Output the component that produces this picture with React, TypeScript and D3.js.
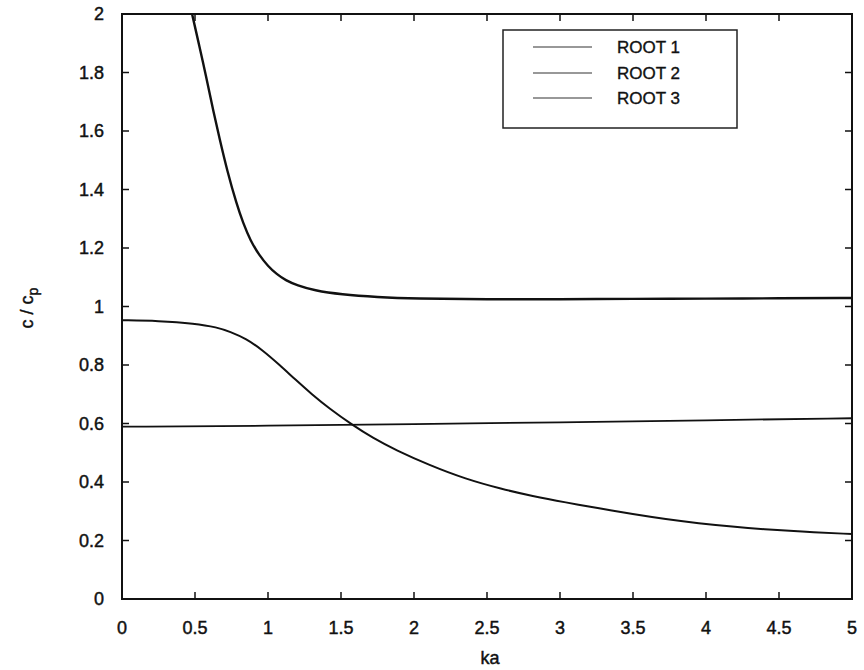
import React from "react";
import * as d3 from "d3";

const root1Ka = [0.48, 0.53, 0.575, 0.62, 0.67, 0.72, 0.785, 0.83, 0.88, 0.94, 1.0, 1.06, 1.12, 1.2, 1.315, 1.5, 1.75, 2.0, 2.5, 3.0, 3.5, 4.0, 4.5, 5.0];
const root1Val = [2.0, 1.89, 1.79, 1.68, 1.57, 1.465, 1.35, 1.285, 1.225, 1.175, 1.138, 1.11, 1.09, 1.072, 1.055, 1.041, 1.032, 1.027, 1.024, 1.025, 1.026, 1.027, 1.028, 1.029];

const root2Ka = [0, 0.25, 0.5, 0.65, 0.74, 0.85, 0.963, 1.08, 1.19, 1.3, 1.418, 1.578, 1.72, 1.875, 2.103, 2.354, 2.6, 2.81, 3.04, 3.267, 3.5, 3.724, 3.95, 4.18, 4.4, 4.637, 5.0];
const root2Val = [0.953, 0.951, 0.942, 0.929, 0.914, 0.89, 0.851, 0.8, 0.749, 0.7, 0.652, 0.595, 0.55, 0.509, 0.458, 0.41, 0.376, 0.352, 0.33, 0.31, 0.29, 0.273, 0.259, 0.247, 0.238, 0.231, 0.222];

const root3Ka = [0, 1, 2, 3, 4, 5];
const root3Val = [0.589, 0.592, 0.598, 0.604, 0.611, 0.618];

const xTicks = [0, 0.5, 1, 1.5, 2, 2.5, 3, 3.5, 4, 4.5, 5];
const yTicks = [0, 0.2, 0.4, 0.6, 0.8, 1, 1.2, 1.4, 1.6, 1.8, 2];
const legendLabels = ["ROOT 1", "ROOT 2", "ROOT 3"];

const W = 864;
const H = 670;
const L = 122, R = 852, T = 14, B = 599;
const FONT = "'Liberation Sans', Arial, Helvetica, sans-serif";

export default function App() {
  const x = d3.scaleLinear().domain([0, 5]).range([L, R]);
  const y = d3.scaleLinear().domain([0, 2]).range([B, T]);
  const line = d3
    .line<[number, number]>()
    .x((d) => x(d[0]))
    .y((d) => y(d[1]))
    .curve(d3.curveBasis);

  const series = [
    { ka: root1Ka, val: root1Val, w: 2.4 },
    { ka: root2Ka, val: root2Val, w: 2.0 },
    { ka: root3Ka, val: root3Val, w: 1.8 },
  ];

  const lg = { x0: 503, y0: 30, x1: 737, y1: 128 };
  const rowY = [47, 73, 98];
  const txt = { fill: "#111", stroke: "#111", strokeWidth: 0.45 };

  return (
    <svg
      width={W}
      height={H}
      style={{ position: "absolute", left: 0, top: 0, background: "#fff" }}
      fontFamily={FONT}
    >
      <rect x={0} y={0} width={W} height={H} fill="#fff" />
      <defs>
        <clipPath id="plot">
          <rect x={L} y={T} width={R - L} height={B - T} />
        </clipPath>
      </defs>

      {xTicks.map((t) => (
        <g key={"xt" + t}>
          <line x1={x(t)} x2={x(t)} y1={B} y2={B - 7} stroke="#111" strokeWidth={1.5} />
          <line x1={x(t)} x2={x(t)} y1={T} y2={T + 7} stroke="#111" strokeWidth={1.5} />
          <text x={x(t)} y={634} textAnchor="middle" fontSize={18} {...txt}>
            {String(t)}
          </text>
        </g>
      ))}
      {yTicks.map((t) => (
        <g key={"yt" + t}>
          <line x1={L} x2={L + 7} y1={y(t)} y2={y(t)} stroke="#111" strokeWidth={1.5} />
          <line x1={R} x2={R - 7} y1={y(t)} y2={y(t)} stroke="#111" strokeWidth={1.5} />
          <text x={104} y={y(t)} dy="0.35em" textAnchor="end" fontSize={18} {...txt}>
            {String(t)}
          </text>
        </g>
      ))}

      <g clipPath="url(#plot)">
        {series.map((s, i) => (
          <path
            key={i}
            d={line(s.ka.map((k, j) => [k, s.val[j]] as [number, number])) || ""}
            fill="none"
            stroke="#111"
            strokeWidth={s.w}
          />
        ))}
      </g>

      <rect x={L} y={T} width={R - L} height={B - T} fill="none" stroke="#111" strokeWidth={2} />

      <rect x={lg.x0} y={lg.y0} width={lg.x1 - lg.x0} height={lg.y1 - lg.y0} fill="#fff" stroke="#222" strokeWidth={1.5} />
      {legendLabels.map((lab, i) => (
        <g key={lab}>
          <line x1={533} x2={592} y1={rowY[i]} y2={rowY[i]} stroke="#333" strokeWidth={1.2} />
          <text x={617} y={rowY[i]} dy="0.35em" fontSize={17} {...txt} strokeWidth={0.35}>
            {lab}
          </text>
        </g>
      ))}

      <text x={490} y={664} textAnchor="middle" fontSize={18} {...txt}>
        ka
      </text>
      <text transform="translate(33,308) rotate(-90)" textAnchor="middle" fontSize={18} {...txt}>
        c / c<tspan dy={5} fontSize={14}>p</tspan>
      </text>
    </svg>
  );
}
